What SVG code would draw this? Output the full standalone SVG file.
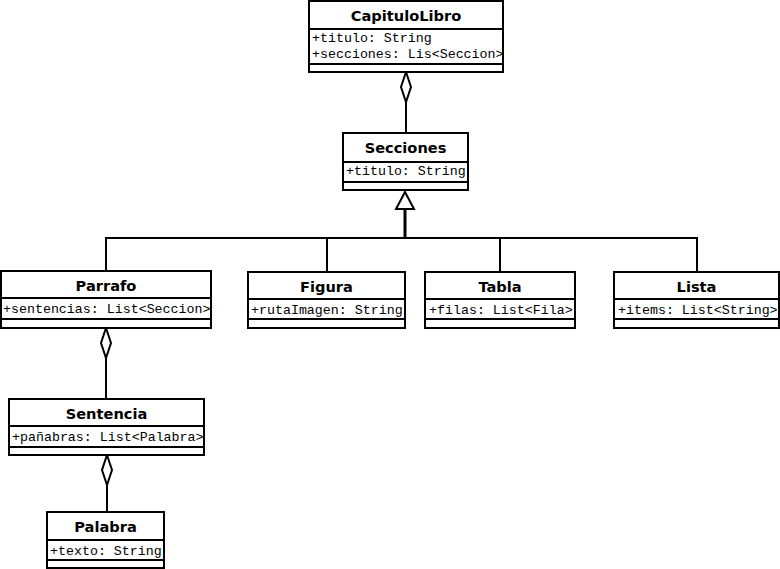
<svg xmlns="http://www.w3.org/2000/svg" width="780" height="569" viewBox="0 0 780 569">
<style>
.box{fill:#fff;stroke:#000;stroke-width:2}
.sep{stroke:#000;stroke-width:2}
.t{font-family:"DejaVu Sans",Verdana,sans-serif;font-weight:bold;font-size:14.6px;text-anchor:middle;fill:#000}
.a{font-family:"Liberation Mono","Courier New",monospace;font-size:13.3px;fill:#000}
.ln{fill:none;stroke:#000;stroke-width:2}
.dia{fill:#fff;stroke:#000;stroke-width:2}
</style>
<rect width="780" height="569" fill="#fff"/>
<g id="connectors">
<path class="ln" d="M406,102 V133"/>
<polygon class="dia" points="406,72 411,87 406,102 401,87"/>
<path class="ln" d="M106,271 V238 H697 V272 M327,238 V272 M500,238 V272"/>
<path class="ln" style="stroke-width:3" d="M405,238 V209"/>
<polygon class="dia" points="405,192 414,209 396,209"/>
<path class="ln" d="M106,358 V399"/>
<polygon class="dia" points="106,328 111,343 106,358 101,343"/>
<path class="ln" d="M107,485 V512"/>
<polygon class="dia" points="107,455 112,470 107,485 102,470"/>
</g>
<g id="CapituloLibro">
<rect class="box" x="309" y="1" width="194" height="71"/>
<line class="sep" x1="309" y1="29" x2="503" y2="29"/>
<line class="sep" x1="309" y1="64" x2="503" y2="64"/>
<text class="t" x="406" y="21">CapituloLibro</text>
<text class="a" x="312" y="42">+titulo: String</text>
<text class="a" x="312" y="58">+secciones: Lis&lt;Seccion&gt;</text>
</g>
<g id="Secciones">
<rect class="box" x="343" y="133" width="125" height="57"/>
<line class="sep" x1="343" y1="162" x2="468" y2="162"/>
<line class="sep" x1="343" y1="182" x2="468" y2="182"/>
<text class="t" x="405.5" y="153">Secciones</text>
<text class="a" x="346" y="175">+titulo: String</text>
</g>
<g id="Parrafo">
<rect class="box" x="1" y="271" width="210" height="57"/>
<line class="sep" x1="1" y1="298" x2="211" y2="298"/>
<line class="sep" x1="1" y1="319" x2="211" y2="319"/>
<text class="t" x="106" y="291">Parrafo</text>
<text class="a" x="3" y="313">+sentencias: List&lt;Seccion&gt;</text>
</g>
<g id="Figura">
<rect class="box" x="248" y="272" width="157" height="56"/>
<line class="sep" x1="248" y1="299" x2="405" y2="299"/>
<line class="sep" x1="248" y1="319" x2="405" y2="319"/>
<text class="t" x="326.5" y="292">Figura</text>
<text class="a" x="251" y="314">+rutaImagen: String</text>
</g>
<g id="Tabla">
<rect class="box" x="425" y="272" width="150" height="56"/>
<line class="sep" x1="425" y1="299" x2="575" y2="299"/>
<line class="sep" x1="425" y1="319" x2="575" y2="319"/>
<text class="t" x="500" y="292">Tabla</text>
<text class="a" x="429" y="314">+filas: List&lt;Fila&gt;</text>
</g>
<g id="Lista">
<rect class="box" x="614" y="272" width="165" height="56"/>
<line class="sep" x1="614" y1="299" x2="779" y2="299"/>
<line class="sep" x1="614" y1="319" x2="779" y2="319"/>
<text class="t" x="696.5" y="292">Lista</text>
<text class="a" x="618" y="314">+items: List&lt;String&gt;</text>
</g>
<g id="Sentencia">
<rect class="box" x="9" y="399" width="195" height="56"/>
<line class="sep" x1="9" y1="426" x2="204" y2="426"/>
<line class="sep" x1="9" y1="447" x2="204" y2="447"/>
<text class="t" x="106.5" y="419">Sentencia</text>
<text class="a" x="12" y="441">+pañabras: List&lt;Palabra&gt;</text>
</g>
<g id="Palabra">
<rect class="box" x="47" y="512" width="117" height="56"/>
<line class="sep" x1="47" y1="540" x2="164" y2="540"/>
<line class="sep" x1="47" y1="560" x2="164" y2="560"/>
<text class="t" x="105.5" y="532">Palabra</text>
<text class="a" x="50" y="555">+texto: String</text>
</g>
</svg>
